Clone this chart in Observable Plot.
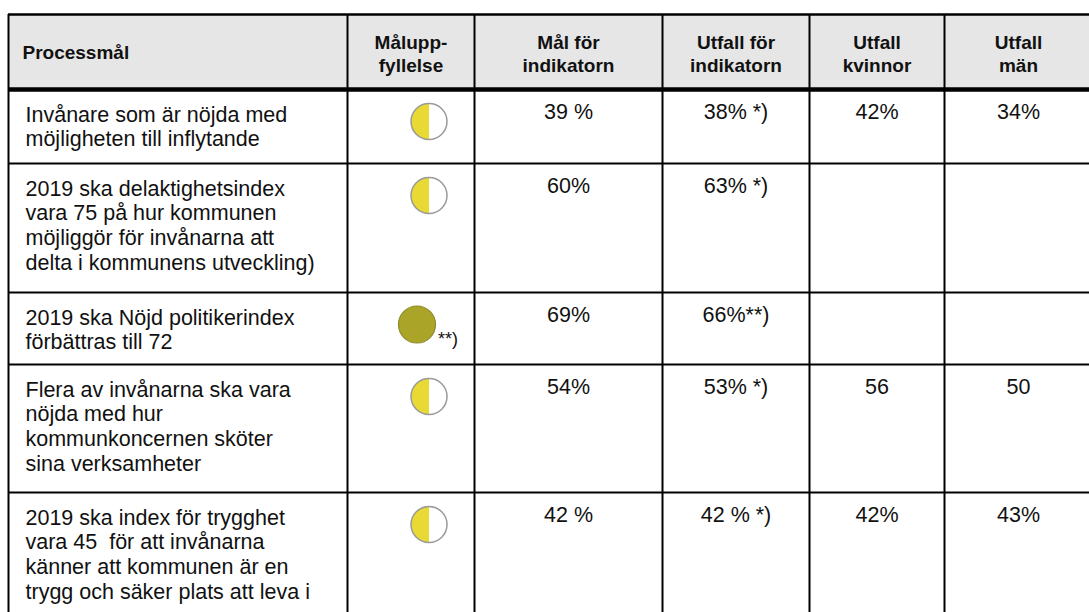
<!DOCTYPE html>
<html><head><meta charset="utf-8">
<script src="https://cdn.jsdelivr.net/npm/d3@7"></script>
<script src="https://cdn.jsdelivr.net/npm/@observablehq/plot@0.6"></script>
<style>html,body{margin:0;padding:0;background:#fff;overflow:hidden}</style>
</head><body><div id="chart"></div>
<script>
// ---- data ----
const headers = ["Processmål", "Målupp-\nfyllelse", "Mål för\nindikatorn", "Utfall för\nindikatorn", "Utfall\nkvinnor", "Utfall\nmän"];
const processmal = [
  "Invånare som är nöjda med\nmöjligheten till inflytande",
  "2019 ska delaktighetsindex\nvara 75 på hur kommunen\nmöjliggör för invånarna att\ndelta i kommunens utveckling)",
  "2019 ska Nöjd politikerindex\nförbättras till 72",
  "Flera av invånarna ska vara\nnöjda med hur\nkommunkoncernen sköter\nsina verksamheter",
  "2019 ska index för trygghet\nvara 45  för att invånarna\nkänner att kommunen är en\ntrygg och säker plats att leva i"
];
const maluppfyllelse = ["delvis", "delvis", "uppfyllt", "delvis", "delvis"];
const maluppfyllelseNot = ["", "", "**)", "", ""];
const malForIndikatorn = ["39 %", "60%", "69%", "54%", "42 %"];
const utfallForIndikatorn = ["38% *)", "63% *)", "66%**)", "53% *)", "42 % *)"];
const utfallKvinnor = ["42%", "", "", "56", "42%"];
const utfallMan = ["34%", "", "", "50", "43%"];

// ---- layout ----
const W = 1089, H = 612;
const colEdges = [8, 347, 474, 662, 809, 944, 1092];
const rowEdges = [14, 89, 163, 292, 364, 492, 660];
const ruleWidths = [2.5, 4.5, 2, 2, 2, 2];
const bodyFont = 21.5, headFont = 19;
const FONT = "Liberation Sans, Arial, sans-serif";
const colCenter = i => (colEdges[i] + colEdges[i + 1]) / 2;

const headerCells = headers.map((t, i) => ({
  t, i, x: i === 0 ? colEdges[0] + 14 : colCenter(i), y: (rowEdges[0] + rowEdges[1]) / 2 + 1
}));

const valueCols = [malForIndikatorn, utfallForIndikatorn, utfallKvinnor, utfallMan];
const leftCells = processmal.map((t, r) => ({t, x: colEdges[0] + 17, y: rowEdges[r + 1] + 14.5}));
const valueCells = [];
processmal.forEach((_, r) => {
  valueCols.forEach((col, k) => {
    valueCells.push({t: col[r], x: colCenter(k + 2), y: rowEdges[r + 1] + 14.5});
  });
});

const status = maluppfyllelse.map((s, r) => ({
  s, note: maluppfyllelseNot[r],
  x: colCenter(1) + (s === "delvis" ? 18 : 6),
  y: rowEdges[r + 1] + 32
}));

const leftHalf = {
  draw(ctx, size) {
    const r = Math.sqrt(size / Math.PI);
    ctx.moveTo(0, -r);
    ctx.arc(0, 0, r, -Math.PI / 2, Math.PI / 2, true);
    ctx.closePath();
  }
};

const hLines = rowEdges.slice(0, 6).map((y, i) => ({y, w: ruleWidths[i]}));
const vLines = colEdges.slice(0, 6);
const half = status.filter(d => d.s === "delvis");
const full = status.filter(d => d.s === "uppfyllt");

const chart = Plot.plot({
  width: W, height: H,
  margin: 0,
  x: {domain: [0, W], range: [0, W], axis: null},
  y: {domain: [0, H], range: [0, H], axis: null},
  style: {background: "#fff"},
  marks: [
    Plot.rect([0], {x1: colEdges[0], x2: colEdges[6], y1: rowEdges[0], y2: rowEdges[1], fill: "#e6e6e6"}),
    Plot.ruleY(hLines, {y: "y", x1: colEdges[0], x2: colEdges[6], stroke: "#000", strokeWidth: "w"}),
    Plot.ruleX(vLines, {x: d => d, y1: rowEdges[0], y2: H + 10, stroke: "#000", strokeWidth: 2}),
    Plot.text(headerCells.filter(d => d.i === 0), {x: "x", y: "y", text: "t", textAnchor: "start", lineAnchor: "middle",
      fontSize: headFont, fontWeight: "bold", fontFamily: FONT, fill: "#111"}),
    Plot.text(headerCells.filter(d => d.i > 0), {x: "x", y: "y", text: "t", textAnchor: "middle", lineAnchor: "middle", lineHeight: 1.2,
      fontSize: headFont, fontWeight: "bold", fontFamily: FONT, fill: "#111"}),
    Plot.text(leftCells, {x: "x", y: "y", text: "t", textAnchor: "start", lineAnchor: "top", lineHeight: 1.15,
      fontSize: bodyFont, fontFamily: FONT, fill: "#111"}),
    Plot.text(valueCells, {x: "x", y: "y", text: "t", textAnchor: "middle", lineAnchor: "top",
      fontSize: bodyFont, fontFamily: FONT, fill: "#111"}),
    Plot.dot(half, {x: "x", y: "y", r: 18, fill: "#fff", stroke: "none"}),
    Plot.dot(half, {x: "x", y: "y", r: 18, symbol: leftHalf, fill: "#e8d934", stroke: "none"}),
    Plot.dot(half, {x: "x", y: "y", r: 18, fill: "none", stroke: "#9a9a9a", strokeWidth: 1.5}),
    Plot.dot(full, {x: "x", y: "y", r: 18.5, fill: "#aaa529", stroke: "#8e8a2a", strokeWidth: 1.2}),
    Plot.text(full.filter(d => d.note), {x: d => d.x + 21, y: d => d.y + 15, text: "note", textAnchor: "start",
      fontSize: 18, fontFamily: FONT, fill: "#111"})
  ]
});
document.getElementById("chart").append(chart);
</script>
</body></html>
